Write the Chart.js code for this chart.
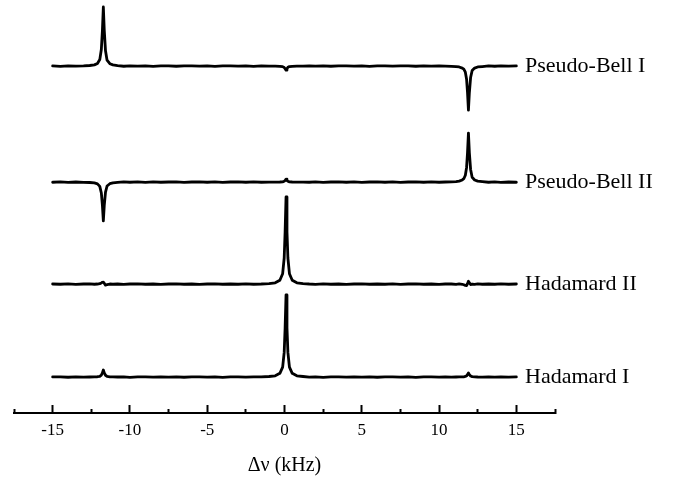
<!DOCTYPE html>
<html><head><meta charset="utf-8">
<script src="https://cdn.jsdelivr.net/npm/chart.js@4/dist/chart.umd.min.js"></script>
<style>html,body{margin:0;padding:0;background:#fff;} canvas{display:block;}</style>
</head><body>
<canvas id="c" width="677" height="478"></canvas>
<script>
// frequency offset (kHz)
const freqKHz = [
 -15, -14.5, -14, -13.5, -13,
 -12.6, -12.3, -12.1, -11.95, -11.85, -11.78, -11.72, -11.66, -11.58, -11.48, -11.3, -11.1, -10.8,
 -10.4, -10, -9.5, -9, -8.5, -8, -7.5, -7, -6.5, -6, -5.5, -5, -4.5, -4, -3.5, -3, -2.5, -2, -1.5,
 -1, -0.6, -0.3, -0.12, -0.02, 0.04, 0.1, 0.16, 0.22, 0.32, 0.5, 0.8, 1.2,
 1.6, 2, 2.5, 3, 3.5, 4, 4.5, 5, 5.5, 6, 6.5, 7, 7.5, 8, 8.5, 9, 9.5, 10, 10.4,
 10.8, 11.1, 11.3, 11.5, 11.6, 11.7, 11.78, 11.84, 11.9, 11.96, 12.04, 12.14, 12.3, 12.5, 12.8,
 13.2, 13.6, 14, 14.5, 15
];
// signal intensities (a.u.) relative to each trace's baseline
const pseudoBellI = [
 0.03, -0.05, 0.05, -0.03, 0.04,
 0.14, 0.29, 0.64, 1.57, 4.0, 8.6, 14.3, 8.6, 3.7, 1.43, 0.57, 0.29, 0.11,
 -0.04, 0.05, -0.03, 0.06, -0.05, 0.03, 0.05, -0.04, 0.03, 0.06, -0.03, 0.04, -0.05, 0.03, 0.05, -0.03, 0.04, -0.05, 0.03,
 -0.01, -0.02, -0.05, -0.13, -0.33, -0.66, -1.0, -0.6, -0.3, -0.12, -0.05, -0.02, -0.01,
 0.04, -0.03, 0.05, -0.04, 0.03, 0.06, -0.03, 0.04, -0.05, 0.03, 0.05, -0.03, 0.04, 0.03, -0.04, 0.05, -0.03, 0.03, -0.02,
 -0.07, -0.11, -0.21, -0.48, -0.75, -1.49, -3.2, -6.4, -10.65, -6.4, -2.77, -1.07, -0.48, -0.21, -0.11,
 0.03, -0.04, 0.05, -0.03, 0.03
];
const pseudoBellII = [
 -0.03, 0.05, -0.04, 0.03, -0.05,
 -0.09, -0.19, -0.42, -1.03, -2.63, -5.64, -9.4, -5.64, -2.44, -0.94, -0.38, -0.19, -0.08,
 0.05, -0.03, 0.04, -0.05, 0.06, -0.03, 0.03, 0.05, -0.04, 0.03, 0.05, -0.03, 0.04, -0.05, 0.03, 0.06, -0.03, 0.04, -0.03,
 0, 0.01, 0.03, 0.08, 0.21, 0.42, 0.7, 0.42, 0.21, 0.08, 0.03, 0.01, 0,
 -0.03, 0.05, -0.04, 0.03, 0.05, -0.03, 0.04, -0.05, 0.03, 0.06, -0.03, 0.04, -0.05, 0.03, 0.05, -0.03, 0.04, -0.03, 0.03,
 0.08, 0.12, 0.24, 0.53, 0.83, 1.66, 3.56, 7.1, 11.86, 7.1, 3.08, 1.19, 0.53, 0.24, 0.12,
 -0.03, 0.04, -0.05, 0.03, -0.03
];
const hadamardII = [
 0.04, -0.03, 0.05, -0.04, 0.03,
 0.05, -0.03, 0.03, 0.12, 0.3, 0.45, 0.5, 0.2, -0.25, -0.1, 0.03, -0.03, 0.04,
 -0.05, 0.03, 0.05, -0.03, 0.04, -0.05, 0.03, 0.06, -0.03, 0.04, -0.05, 0.03, 0.05, -0.03, 0.04, -0.03, 0.05, -0.03, 0.03,
 0.15, 0.32, 0.95, 2.53, 6.33, 12.66, 21.1, 12.66, 6.33, 2.53, 0.95, 0.32, 0.15,
 0.03, -0.04, 0.05, -0.03, 0.04, -0.05, 0.03, 0.06, -0.03, 0.04, -0.03, 0.05, -0.04, 0.03, 0.05, -0.03, 0.04, -0.05, 0.03,
 0.03, -0.04, 0.05, -0.03, -0.15, -0.3, -0.35, 0.1, 0.7, 0.35, -0.1, 0.03, -0.04, 0.05, -0.03,
 0.04, -0.03, 0.05, -0.03, 0.03
];
const hadamardI = [
 0.03, 0.05, -0.04, 0.03, -0.03,
 0.02, 0.04, 0.08, 0.19, 0.48, 1.0, 1.7, 1.0, 0.44, 0.17, 0.07, 0.04, 0.02,
 0.04, -0.05, 0.03, 0.05, -0.03, 0.04, -0.03, 0.05, -0.04, 0.03, 0.05, -0.03, 0.04, -0.05, 0.03, 0.06, -0.03, 0.03, 0.04,
 0.14, 0.3, 0.9, 2.39, 5.97, 11.94, 19.9, 11.94, 5.97, 2.39, 0.9, 0.3, 0.14,
 -0.03, 0.04, -0.05, 0.03, 0.05, -0.03, 0.04, -0.03, 0.05, -0.04, 0.03, 0.05, -0.03, 0.04, -0.05, 0.03, 0.06, -0.03, 0.03,
 0.01, 0.02, 0.03, 0.05, 0.07, 0.14, 0.3, 0.6, 1.0, 0.6, 0.26, 0.1, 0.05, 0.02, 0.01,
 0.04, -0.03, 0.05, -0.03, 0.03
];
const traceNames = ['Pseudo-Bell I', 'Pseudo-Bell II', 'Hadamard II', 'Hadamard I'];
const traceOffsets = [84.0, 55.9, 31.2, 8.7];
const majorTicks = [-15, -10, -5, 0, 5, 10, 15];
const xTickLabels = ['-15', '-10', '-5', '0', '5', '10', '15'];
const xTitle = 'Δν (kHz)';

const traces = [pseudoBellI, pseudoBellII, hadamardII, hadamardI];
const datasets = traces.map((vals, k) => ({
  label: traceNames[k],
  data: freqKHz.map((f, i) => ({x: f, y: traceOffsets[k] + vals[i]})),
  borderColor: '#000',
  borderWidth: 2.8,
  pointRadius: 0,
  tension: 0,
  fill: false,
  borderJoinStyle: 'round',
  borderCapStyle: 'round'
}));

const FONT = "'Liberation Serif', 'Times New Roman', serif";
Chart.defaults.font.family = FONT;
Chart.defaults.color = '#000';

// width of the widest right-hand label, used to left-align the mirrored labels
const mctx = document.createElement('canvas').getContext('2d');
mctx.font = "22px " + FONT;
const widestLabel = Math.max(...traceNames.map(n => mctx.measureText(n).width));
const labelStartGap = 30; // labels start this many px left of the axis end

new Chart(document.getElementById('c'), {
  type: 'line',
  data: {datasets},
  options: {
    responsive: false,
    animation: false,
    devicePixelRatio: 1,
    layout: {padding: {left: 14, right: 22, top: 0, bottom: 0}},
    plugins: {legend: {display: false}, tooltip: {enabled: false}},
    scales: {
      x: {
        type: 'linear',
        position: 'bottom',
        min: -17.5, max: 17.5,
        ticks: {
          stepSize: 2.5,
          autoSkip: false,
          maxRotation: 0,
          padding: 15,
          font: {size: 17},
          color: '#000',
          callback: (v) => { const i = majorTicks.indexOf(v); return i >= 0 ? xTickLabels[i] : ''; }
        },
        grid: {
          display: true,
          drawOnChartArea: false,
          drawTicks: true,
          tickLength: -8,
          tickWidth: 2,
          tickColor: '#000',
          tickBorderDash: (ctx) => (ctx.tick && Math.abs(ctx.tick.value % 5) < 1e-9) ? [] : [5, 40]
        },
        border: {display: true, color: '#000', width: 2},
        title: {display: true, text: xTitle, font: {size: 20}, color: '#000', padding: {top: 0, bottom: 0}},
        afterFit: (s) => { s.height = 65; s.paddingLeft = 0; s.paddingRight = 0; }
      },
      y: {
        type: 'linear',
        position: 'right',
        min: 0, max: 100,
        afterBuildTicks: (s) => { s.ticks = traceOffsets.map(v => ({value: v})); },
        ticks: {
          autoSkip: false,
          mirror: true,
          crossAlign: 'far',
          padding: widestLabel - labelStartGap,
          font: {size: 22},
          color: '#000',
          callback: (v, i) => traceNames[i]
        },
        grid: {display: false, drawTicks: false},
        border: {display: false},
        afterFit: (s) => { s.width = 100; s.paddingTop = 0; s.paddingBottom = 0; }
      }
    }
  }
});
</script>
</body></html>
